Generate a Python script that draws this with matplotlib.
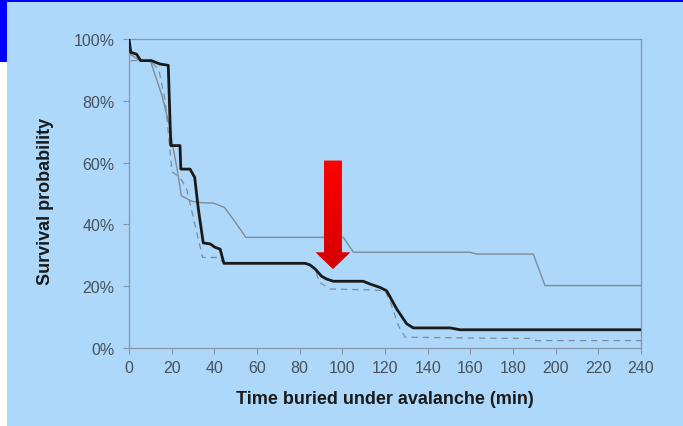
#!/usr/bin/env python3
"""Avalanche burial survival curves, redrawn as out.png."""

import matplotlib
matplotlib.use("Agg")
import matplotlib.pyplot as plt
import numpy as np
from matplotlib.colors import LinearSegmentedColormap
from matplotlib.patches import Rectangle

# --- data (minutes, percent) ---
time_black = [0, 0.8, 3.5, 5.5, 10.5, 14.5, 18.4, 19.6, 23.9, 24.3, 28.6, 30.8,
              32.5, 34.8, 38, 40.3, 42.7, 44.5, 82.5, 84.8, 87.2, 90.3, 92.7,
              95.8, 109.8, 113, 117.7, 120.8, 125.5, 130.2, 133.3, 150.5, 155.2, 240]
surv_black = [100, 95.7, 95.1, 93, 93, 91.9, 91.5, 65.5, 65.5, 57.9, 57.9, 55.2,
              45, 34, 33.7, 32.6, 32, 27.4, 27.4, 26.9, 25.6, 23.2, 22.3,
              21.6, 21.6, 20.7, 19.6, 18.5, 12.6, 7.8, 6.5, 6.5, 5.9, 5.9]

time_gray = [0, 0.8, 5, 10, 15.5, 17, 19, 20.5, 22.8, 24.5, 29.4, 34, 39.6,
             44.7, 47.7, 54.8, 100.5, 105.2, 159.8, 163, 189.5, 195, 240]
surv_gray = [100, 95, 93, 93, 81.6, 77.3, 72, 65.5, 56.9, 49.3, 47.5, 47, 46.9,
             45.5, 42.8, 35.8, 35.8, 31, 31, 30.4, 30.4, 20.2, 20.2]

time_dash = [0, 0.5, 10, 14, 17, 19.2, 20.2, 23.9, 27, 34.5, 42, 44.5, 82.5,
             84.8, 87.2, 89.2, 94.2, 113.8, 120, 122.3, 126.3, 129.4, 164.5,
             188, 191, 240]
surv_dash = [100, 93, 93, 90, 80, 63.9, 57, 55.2, 51.5, 29.3, 29.3, 27.4, 27.4,
             26.9, 25.6, 21.3, 19.1, 18.8, 18.5, 15.3, 7.2, 3.5, 3.2,
             3.1, 2.4, 2.4]

x_ticks = list(range(0, 241, 20))
y_ticks = [0, 20, 40, 60, 80, 100]
y_tick_labels = [f"{v}%" for v in y_ticks]

# red arrow pointing at the ~90 min point
arrow_x = 95.6
arrow_top = 60.6
arrow_tip = 25.6

BG = "#add8fa"
AXIS_GRAY = "#8796a6"
TEXT_GRAY = "#48525c"

plt.rcParams["font.family"] = ["Liberation Sans", "DejaVu Sans"]

fig = plt.figure(figsize=(6.83, 4.27), dpi=100, facecolor=BG)

# slide decorations: blue bars top/left and white strip
fig.patches.append(Rectangle((0, 1 - 2.5 / 427), 1, 2.5 / 427, transform=fig.transFigure,
                             facecolor="#0000ff", edgecolor="none", zorder=0))
fig.patches.append(Rectangle((0, 1 - 63 / 427), 7 / 683, 63 / 427, transform=fig.transFigure,
                             facecolor="#0000ff", edgecolor="none", zorder=0))
fig.patches.append(Rectangle((0, 0), 7 / 683, 1 - 63 / 427, transform=fig.transFigure,
                             facecolor="white", edgecolor="none", zorder=0))

ax = fig.add_axes([129 / 683, 1 - 349 / 427, 512 / 683, 309 / 427])
ax.set_facecolor("none")

ax.plot(time_gray, surv_gray, color="#7e8b98", linewidth=1.0, zorder=2)
ax.plot(time_dash, surv_dash, color="#7e8b98", linewidth=0.9,
        linestyle=(0, (5, 4)), zorder=2)
ax.plot(time_black, surv_black, color="#1a1a1a", linewidth=2.0, zorder=3,
        solid_joinstyle="round")

# arrow with a light top-to-bottom gradient
arr = ax.arrow(arrow_x, arrow_top, 0, arrow_tip - arrow_top, width=8.3,
               head_width=16.0, head_length=5.3, length_includes_head=True,
               facecolor="#ff0000", edgecolor="none", zorder=4)
cmap = LinearSegmentedColormap.from_list("redgrad", ["#ff0000", "#d20000"])
grad = np.linspace(0, 1, 256).reshape(-1, 1)
im = ax.imshow(grad, extent=[arrow_x - 9, arrow_x + 9, arrow_tip, arrow_top],
               cmap=cmap, aspect="auto", origin="upper", zorder=5)
im.set_clip_path(arr)

ax.set_xlim(0, 240)
ax.set_ylim(0, 100)
ax.set_xticks(x_ticks)
ax.set_yticks(y_ticks)
ax.set_yticklabels(y_tick_labels)

for side in ["left", "bottom", "top", "right"]:
    ax.spines[side].set_color(AXIS_GRAY)
    ax.spines[side].set_linewidth(0.9)

ax.tick_params(axis="x", direction="out", length=4, width=0.8, color=AXIS_GRAY,
               labelsize=11.5, labelcolor=TEXT_GRAY, pad=5)
ax.tick_params(axis="y", direction="out", length=4.5, width=0.8, color=AXIS_GRAY,
               labelsize=11.5, labelcolor=TEXT_GRAY, pad=6)

ax.set_xlabel("Time buried under avalanche (min)", fontsize=13, fontweight="bold",
              color="#1a1a1a")
ax.xaxis.set_label_coords(0.5, -0.165)
ax.xaxis.label.set_va("center")
ax.set_ylabel("Survival probability", fontsize=13, fontweight="bold", color="#1a1a1a")
ax.yaxis.set_label_coords(-0.163, 0.476)
ax.yaxis.label.set_va("center")

fig.savefig("out.png", dpi=100, facecolor=BG)
